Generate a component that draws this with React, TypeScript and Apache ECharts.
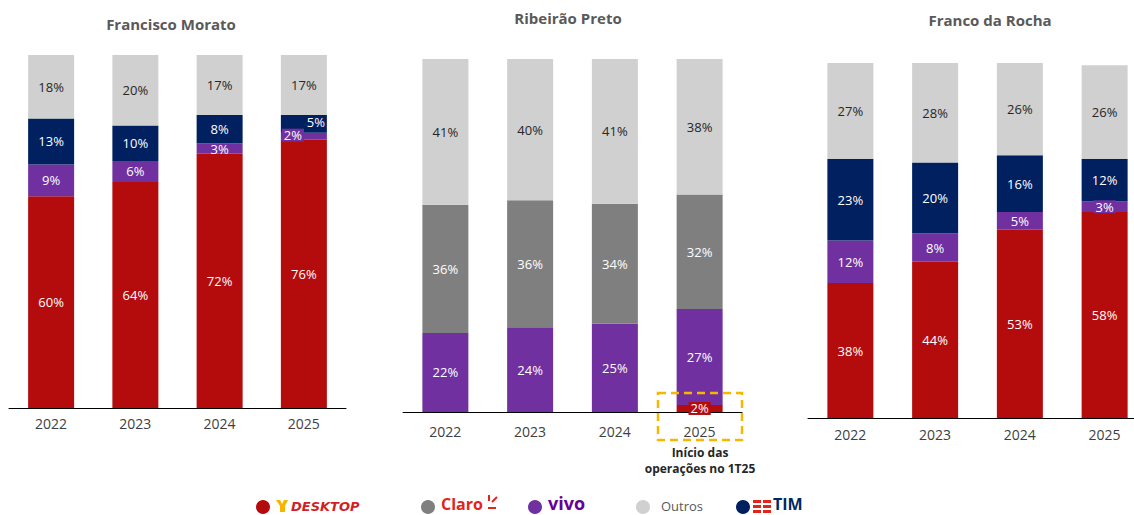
import React, { useEffect, useRef } from 'react';
import * as echarts from 'echarts';

const years = ['2022', '2023', '2024', '2025'];
const titles = ['Francisco Morato', 'Ribeirão Preto', 'Franco da Rocha'];
// per chart: [Francisco Morato, Ribeirão Preto, Franco da Rocha] (shares, %, estimated; labels rounded)
const desktop = [[60, 64, 72, 76], [0, 0, 0, 2], [38, 44, 53, 58]];
const vivo = [[9, 6, 3, 2], [22.4, 24, 25, 27.2], [12, 8, 5, 3]];
const claro = [[0, 0, 0, 0], [36.3, 36, 34, 32.4], [0, 0, 0, 0]];
const tim = [[13, 10, 8, 5], [0, 0, 0, 0], [23, 20, 16, 12]];
const outros = [[18, 20, 17, 17], [41.3, 40, 41, 38.4], [27, 28, 26, 26.4]];
const annotationLines = ['Início das', 'operações no 1T25'];

const RED = '#B40C0C';
const PURPLE = '#7030A0';
const NAVY = '#002060';
const DGRAY = '#7F7F7F';
const LGRAY = '#D0D0D0';
const FONT = '"Open Sans", "Noto Sans", sans-serif';

const grids = [
  { left: 9, top: 55, width: 337, height: 353 },
  { left: 403, top: 59, width: 339, height: 353 },
  { left: 808, top: 63, width: 339, height: 355 },
];
const xMargins = [8, 12, 9];
const titlePos = [[171, 24], [568, 18], [990, 20]];

const fmt = (p: any) => (p.value ? Math.round(p.value) + '%' : '');

function makeData(vals: number[], chart: number, key: string) {
  return vals.map((v, i) => {
    if (chart === 0 && i === 3 && key === 'vivo')
      return { value: v, label: { offset: [-11, -1], backgroundColor: PURPLE, padding: [0, 2] } };
    if (chart === 0 && i === 3 && key === 'tim')
      return { value: v, label: { offset: [12, -2] } };
    if (chart === 1 && i === 3 && key === 'desktop')
      return { value: v, label: { backgroundColor: RED, padding: [0, 2] } };
    if (chart === 2 && i === 3 && key === 'vivo')
      return { value: v, label: { backgroundColor: PURPLE, padding: [0, 2] } };
    return v;
  });
}

function legendText(x: number, y: number, text: string, fill: string, font: string, size: number) {
  return {
    type: 'text', x, y,
    style: { text, fill, font, lineHeight: size, textVerticalAlign: 'middle' },
  };
}

export default function App() {
  const ref = useRef<HTMLDivElement>(null);
  useEffect(() => {
    if (!ref.current) return;
    document.body.style.overflow = 'hidden';
    const chart = echarts.init(ref.current, undefined, { renderer: 'svg' });
    const series: any[] = [];
    const defs = [
      { key: 'desktop', name: 'Desktop', arr: desktop, color: RED, lc: '#fff' },
      { key: 'vivo', name: 'Vivo', arr: vivo, color: PURPLE, lc: '#fff' },
      { key: 'claro', name: 'Claro', arr: claro, color: DGRAY, lc: '#fff' },
      { key: 'tim', name: 'TIM', arr: tim, color: NAVY, lc: '#fff' },
      { key: 'outros', name: 'Outros', arr: outros, color: LGRAY, lc: '#262626' },
    ];
    for (let c = 0; c < 3; c++) {
      for (const d of defs) {
        series.push({
          type: 'bar',
          name: d.name,
          stack: 'c' + c,
          xAxisIndex: c,
          yAxisIndex: c,
          barWidth: 46,
          data: makeData(d.arr[c], c, d.key),
          itemStyle: { color: d.color },
          label: {
            show: true,
            position: 'inside',
            formatter: fmt,
            color: d.lc,
            fontSize: 13,
            fontFamily: FONT,
          },
        });
      }
    }
    const graphic: any[] = [];
    titles.forEach((t, i) => {
      graphic.push({
        type: 'text',
        x: titlePos[i][0],
        y: titlePos[i][1],
        style: {
          text: t, fill: '#595959', font: 'bold 15px ' + FONT,
          textAlign: 'center', textVerticalAlign: 'middle',
        },
      });
    });
    // annotation
    graphic.push({
      type: 'rect', z: 100,
      shape: { x: 658, y: 393, width: 84, height: 47 },
      style: { fill: 'none', stroke: '#F5B700', lineWidth: 2.5, lineDash: [8, 5] },
    });
    annotationLines.forEach((t, i) => {
      graphic.push({
        type: 'text', x: 700, y: 452 + i * 16,
        style: {
          text: t, fill: '#262626', font: 'bold 12px ' + FONT,
          textAlign: 'center', textVerticalAlign: 'middle',
        },
      });
    });
    // legend
    const circles: [number, string][] = [[263, RED], [428, DGRAY], [535, PURPLE], [643, LGRAY], [743, NAVY]];
    circles.forEach(([x, col]) => {
      graphic.push({ type: 'circle', shape: { cx: x, cy: 507, r: 7 }, style: { fill: col } });
    });
    // desktop icon
    graphic.push({
      type: 'polygon',
      shape: { points: [[276, 500], [280, 500], [282, 504], [284, 500], [288, 500], [285, 506], [285, 512], [280, 512], [280, 506]] },
      style: { fill: '#F7B500' },
    });
    graphic.push(legendText(291, 506, 'DESKTOP', '#D11F26', 'italic 900 13px "DejaVu Sans", sans-serif', 13));
    graphic.push(legendText(441, 504, 'Claro', '#E1251B', 'bold 16px ' + FONT, 16));
    graphic.push({ type: 'line', shape: { x1: 489, y1: 495, x2: 489, y2: 501 }, style: { stroke: '#E1251B', lineWidth: 2 } });
    graphic.push({ type: 'line', shape: { x1: 492, y1: 502, x2: 497, y2: 497 }, style: { stroke: '#E1251B', lineWidth: 2 } });
    graphic.push({ type: 'line', shape: { x1: 488, y1: 508, x2: 496, y2: 508 }, style: { stroke: '#E1251B', lineWidth: 2 } });
    graphic.push(legendText(548, 503, 'vivo', '#660099', 'bold 18px ' + FONT, 18));
    graphic.push(legendText(661, 506, 'Outros', '#595959', '13px ' + FONT, 13));
    for (let r = 0; r < 3; r++) {
      graphic.push({ type: 'rect', shape: { x: 753, y: 500 + r * 5, width: 8, height: 3 }, style: { fill: '#E1251B' } });
      graphic.push({ type: 'rect', shape: { x: 763, y: 500 + r * 5, width: 8, height: 3 }, style: { fill: '#E1251B' } });
    }
    graphic.push(legendText(773, 504, 'TIM', '#00285F', 'bold 16px ' + FONT, 16));

    chart.setOption({
      animation: false,
      grid: grids,
      xAxis: grids.map((g, i) => ({
        type: 'category',
        gridIndex: i,
        data: years,
        axisLine: { lineStyle: { color: '#000', width: 1 } },
        axisTick: { show: false },
        axisLabel: { color: '#404040', fontSize: 14, fontFamily: FONT, margin: xMargins[i] },
      })),
      yAxis: grids.map((g, i) => ({
        type: 'value', gridIndex: i, min: 0, max: 100, show: false,
        splitLine: { show: false },
      })),
      series,
      graphic,
    });
    return () => chart.dispose();
  }, []);
  return (
    <div
      ref={ref}
      style={{ position: 'fixed', left: 0, top: 0, width: 1160, height: 515, background: '#fff' }}
    />
  );
}
